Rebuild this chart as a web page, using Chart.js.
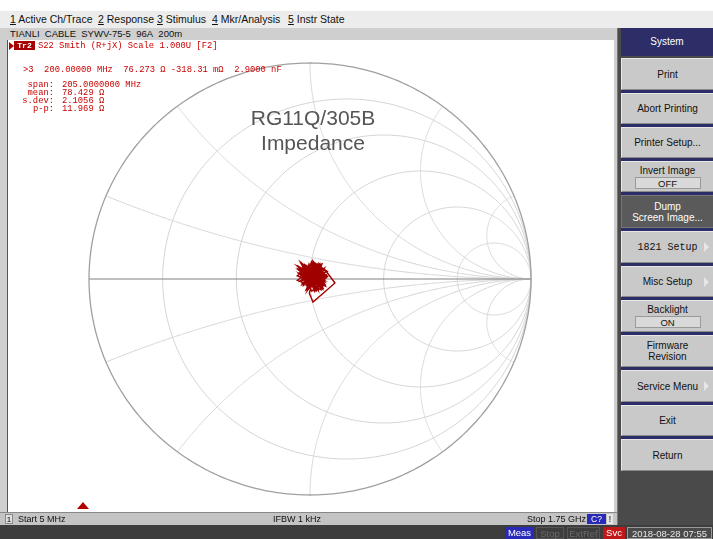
<!DOCTYPE html>
<html><head><meta charset="utf-8">
<script src="https://cdn.jsdelivr.net/npm/chart.js@4/dist/chart.umd.min.js"></script>
<style>
body{margin:0;width:713px;height:539px;position:relative;overflow:hidden;background:#fff;font-family:"Liberation Sans",sans-serif;}
.a{position:absolute;white-space:nowrap;}
.menu{top:12px;font-size:10.5px;line-height:15px;color:#111;}
.menu u{text-decoration:underline;}
.mono{font-family:"Liberation Mono","DejaVu Sans Mono",monospace;color:#c80000;font-size:8.8px;line-height:8px;}
.btn{left:621px;width:92px;background:#c9c9c9;border-top:1px solid #e8e8e8;border-left:1px solid #e8e8e8;border-bottom:1px solid #8a8a8a;box-sizing:border-box;text-align:center;font-size:10px;color:#111;display:flex;flex-direction:column;justify-content:center;align-items:center;}
.sep{left:621px;width:92px;height:3px;background:#2d2d68;}
.box{width:66px;height:12px;background:#d9d9d9;border:1px solid #9a9a9a;box-sizing:border-box;font-size:9.5px;line-height:11px;margin-top:1px;}
.arrow{position:absolute;right:4px;top:50%;margin-top:-5px;width:0;height:0;border-top:5px solid transparent;border-bottom:5px solid transparent;border-left:5px solid #e6e6e6;}
.st{top:527px;height:12px;font-size:9.5px;line-height:12px;text-align:center;}
</style></head>
<body>
<!-- top menu -->
<div class="a" style="left:0;top:11px;width:713px;height:17px;background:#ececec;"></div>
<div class="a menu" style="left:10px"><u>1</u> Active Ch/Trace</div>
<div class="a menu" style="left:98px"><u>2</u> Response</div>
<div class="a menu" style="left:157px"><u>3</u> Stimulus</div>
<div class="a menu" style="left:212px"><u>4</u> Mkr/Analysis</div>
<div class="a menu" style="left:288px"><u>5</u> Instr State</div>
<!-- second row -->
<div class="a" style="left:0;top:28px;width:617px;height:12px;background:#cfcfcf;"></div>
<div class="a" style="left:10px;top:28px;font-size:9.5px;line-height:12px;color:#111;">TIANLI&nbsp; CABLE&nbsp; SYWV-75-5&nbsp; 96A&nbsp; 200m</div>
<!-- left gray margin -->
<div class="a" style="left:0;top:40px;width:7px;height:472px;background:#cfcfcf;"></div>
<div class="a" style="left:7px;top:40px;width:1px;height:472px;background:#555;"></div>
<!-- right strip -->
<div class="a" style="left:614px;top:40px;width:4px;height:472px;background:#cfcfcf;"></div>
<div class="a" style="left:617px;top:28px;width:4px;height:497px;background:#bdbdbd;border-left:1px solid #777;"></div>

<div class="a" style="left:8px;top:40px;width:606px;height:472px;">
<canvas id="c" width="606" height="472"></canvas>
</div>

<!-- trace text -->
<div class="a" style="left:9px;top:42px;width:0;height:0;border-top:4px solid transparent;border-bottom:4px solid transparent;border-left:5px solid #b00000;"></div>
<div class="a" style="left:14px;top:41px;width:21px;height:9px;background:#a80000;color:#fff;font-family:'Liberation Mono',monospace;font-size:8px;line-height:9px;text-align:center;font-weight:bold;">Tr2</div>
<div class="a mono" style="left:38px;top:42px;">S22 Smith (R+jX) Scale 1.000U [F2]</div>
<div class="a mono" style="left:23px;top:66px;">&gt;3&nbsp; 200.00000 MHz&nbsp; 76.273 Ω -318.31 mΩ&nbsp; 2.9000 nF</div>
<div class="a mono" style="left:22px;top:81px;width:32px;text-align:right;">span:</div>
<div class="a mono" style="left:62px;top:81px;">205.0000000 MHz</div>
<div class="a mono" style="left:22px;top:89px;width:32px;text-align:right;">mean:</div>
<div class="a mono" style="left:62px;top:89px;">78.429 Ω</div>
<div class="a mono" style="left:17px;top:97px;width:37px;text-align:right;">s.dev:</div>
<div class="a mono" style="left:62px;top:97px;">2.1056 Ω</div>
<div class="a mono" style="left:22px;top:105px;width:32px;text-align:right;">p-p:</div>
<div class="a mono" style="left:62px;top:105px;">11.969 Ω</div>

<!-- title -->
<div class="a" style="left:213px;top:105px;width:200px;text-align:center;font-family:'Liberation Sans',Arial,sans-serif;font-size:21px;line-height:25px;color:#555;">RG11Q/305B<br>Impedance</div>

<!-- marker triangle -->
<div class="a" style="left:77px;top:502px;width:0;height:0;border-left:6px solid transparent;border-right:6px solid transparent;border-bottom:7px solid #b00000;"></div>

<!-- bottom bar -->
<div class="a" style="left:0;top:512px;width:617px;height:13px;background:#c4c4c4;border-top:1px solid #888;box-sizing:border-box;"></div>
<div class="a" style="left:5px;top:514px;width:8px;height:10px;border:1px solid #888;box-sizing:border-box;background:#e0e0e0;font-size:8px;line-height:9px;text-align:center;">1</div>
<div class="a" style="left:18px;top:513px;font-size:9px;line-height:12px;color:#111;">Start 5 MHz</div>
<div class="a" style="left:273px;top:513px;font-size:9px;line-height:12px;color:#111;">IFBW 1 kHz</div>
<div class="a" style="left:527px;top:513px;font-size:9px;line-height:12px;color:#111;">Stop 1.75 GHz</div>
<div class="a" style="left:587px;top:514px;width:19px;height:10px;background:#2a2ab8;color:#fff;font-size:8.5px;line-height:10px;text-align:center;">C?</div>
<div class="a" style="left:607px;top:514px;width:6px;height:10px;background:#e6e6e6;font-size:8.5px;line-height:10px;text-align:center;">!</div>

<!-- status bar -->
<div class="a" style="left:0;top:525px;width:713px;height:14px;background:#3d3d3d;"></div>
<div class="a st" style="left:505px;width:29px;background:#2a2ab8;color:#fff;">Meas</div>
<div class="a st" style="left:536px;width:28px;color:#6a6a6a;border:1px solid #555;box-sizing:border-box;">Stop</div>
<div class="a st" style="left:567px;width:33px;color:#6a6a6a;border:1px solid #555;box-sizing:border-box;">ExtRef</div>
<div class="a st" style="left:603px;width:22px;background:#c01818;color:#fff;">Svc</div>
<div class="a st" style="left:627px;width:85px;background:#4a4a4a;color:#e6e6e6;border:1px solid #999;box-sizing:border-box;">2018-08-28 07:55</div>

<!-- right panel -->
<div class="a" style="left:618px;top:28px;width:95px;height:497px;background:#4a4a4a;"></div>
<div class="a" style="left:621px;top:28px;width:92px;height:28px;background:#2d2d68;color:#fff;font-size:10px;line-height:28px;text-align:center;">System</div>
<div class="a btn" style="top:58px;height:32px;">Print</div>
<div class="a sep" style="top:90px"></div>
<div class="a btn" style="top:93px;height:31px;">Abort Printing</div>
<div class="a sep" style="top:124px"></div>
<div class="a btn" style="top:127px;height:31px;">Printer Setup...</div>
<div class="a sep" style="top:158px"></div>
<div class="a btn" style="top:161px;height:31px;"><div>Invert Image</div><div class="box">OFF</div></div>
<div class="a sep" style="top:192px"></div>
<div class="a btn" style="top:195px;height:33px;background:#5a5a5a;color:#fff;border-color:#777;"><div>Dump</div><div>Screen Image...</div></div>
<div class="a sep" style="top:228px"></div>
<div class="a btn" style="top:231px;height:32px;font-family:'Liberation Mono',monospace;"><span>1821 Setup</span><div class="arrow"></div></div>
<div class="a sep" style="top:263px"></div>
<div class="a btn" style="top:266px;height:31px;"><span>Misc Setup</span><div class="arrow"></div></div>
<div class="a sep" style="top:297px"></div>
<div class="a btn" style="top:300px;height:32px;"><div>Backlight</div><div class="box">ON</div></div>
<div class="a sep" style="top:332px"></div>
<div class="a btn" style="top:335px;height:32px;"><div>Firmware</div><div>Revision</div></div>
<div class="a sep" style="top:367px"></div>
<div class="a btn" style="top:370px;height:32px;"><span>Service Menu</span><div class="arrow"></div></div>
<div class="a sep" style="top:402px"></div>
<div class="a btn" style="top:405px;height:31px;">Exit</div>
<div class="a sep" style="top:436px"></div>
<div class="a btn" style="top:439px;height:32px;">Return</div>

<script>
// ---- data (S22 trace, impedance in ohms, read from the cluster) ----
const z0 = 75;
const traceR = [77.3,84.6,70.2,81.9,74.0,86.3,68.7,79.5,72.8,83.1,75.6,69.4,85.0,78.2,71.5,80.7,66.9,82.4,76.1,87.2,73.3,79.9,68.0,84.0,75.0,70.8,81.3,77.9,66.5,83.6,72.1,78.8,86.8,74.7,69.9,80.2,76.5,85.5,71.0,79.1,67.6,82.9,75.3,88.0,73.9,78.5,70.5,84.9,76.9,81.6,
69.2,83.3,74.4,80.0,67.2,85.8,77.6,72.5,82.1,75.9,68.4,86.0,79.7,71.8,81.0,76.2,70.0,84.3,73.5,78.0,
87.5,94.0,84.5,75.3,73.9,76.0,
77.0,83.8,69.6,80.9,72.3,86.9,75.8,68.2,82.7,78.6,71.2,84.7,74.9,79.3,67.9,81.8,76.7,85.3,70.4,78.3,
73.1,82.5,69.0,80.4,76.0,87.5,71.6,79.0,84.1,74.2,
66.8,81.1,77.4,85.6,72.9,79.6,70.9,83.4,75.4,68.8,
82.0,76.4,86.2,73.7,80.6,69.8,78.9,84.5,71.3,77.8,
74.6,83.0,67.4,81.4,76.8,85.1,72.0,79.4,70.3,82.8];
const traceX = [2.0,-4.5,7.3,9.8,-6.1,3.4,-1.2,11.0,-7.8,5.6,0.3,-3.0,8.7,-5.4,4.1,10.5,-0.8,-8.2,6.4,1.7,-2.6,9.2,3.9,-6.9,12.0,-4.0,5.1,-1.7,7.9,0.8,-7.2,10.1,2.6,-5.0,8.3,-2.1,11.6,-3.7,4.6,-8.8,6.0,-0.4,9.5,2.2,-6.4,7.0,-3.3,4.9,10.8,-1.0,
3.1,-7.5,8.9,-4.8,5.8,0.6,-9.0,6.8,-2.4,11.3,1.3,-5.7,4.4,9.0,-3.6,7.5,-0.2,3.6,-6.6,10.2,
5.3,-3.5,-10.6,-16.2,-9.8,-4.0,
4.3,-2.9,9.6,-6.3,6.7,1.1,-8.5,5.3,11.8,-4.2,8.1,-0.6,3.0,-7.0,7.6,0.0,10.4,-3.9,5.5,-1.5,
9.9,-5.2,2.8,-8.0,12.4,6.2,-2.2,4.0,-6.8,8.6,
1.9,-4.4,10.9,-1.8,7.2,-7.6,3.3,5.9,-0.9,9.4,
-3.4,6.5,0.5,-5.9,11.1,2.4,-8.7,7.7,4.7,-2.0,
8.4,-6.7,3.7,10.0,-1.4,5.0,-4.6,1.5,9.7,-3.2];
// Smith grid values (normalized)
const gridR = [0.2, 0.5, 1, 2, 5];
const gridX = [0.2, 0.5, 1, 2, 5, -0.2, -0.5, -1, -2, -5];

// ---- layout ----
const W = 606, H = 472, CX = 302, CY = 239, RX = 221, RY = 216;

function gamma(r, x) { // normalized z -> reflection coefficient
  const dr = r + 1, den = dr*dr + x*x;
  return { x: ((r*r + x*x) - 1) / den, y: (2*x) / den };
}
const traceData = [];
for (let i = 0; i < Math.min(traceR.length, traceX.length); i++) {
  traceData.push(gamma(traceR[i]/z0, traceX[i]/z0));
}

const smithGrid = {
  id: 'smithGrid',
  beforeDatasetsDraw(chart) {
    const ctx = chart.ctx, xs = chart.scales.x, ys = chart.scales.y;
    const px = v => xs.getPixelForValue(v), py = v => ys.getPixelForValue(v);
    ctx.save();
    ctx.lineWidth = 1;
    ctx.strokeStyle = '#d4d4d4';
    gridR.forEach(r => {
      const c = r/(1+r), rad = 1/(1+r);
      ctx.beginPath();
      for (let k = 0; k <= 360; k++) {
        const t = k*Math.PI/180;
        const gx = c + rad*Math.cos(t), gy = rad*Math.sin(t);
        k ? ctx.lineTo(px(gx), py(gy)) : ctx.moveTo(px(gx), py(gy));
      }
      ctx.stroke();
    });
    gridX.forEach(x => {
      ctx.beginPath();
      for (let k = 0; k <= 400; k++) {
        const r = Math.tan(k/400*Math.PI/2*0.9999);
        const g = gamma(r, x);
        k ? ctx.lineTo(px(g.x), py(g.y)) : ctx.moveTo(px(g.x), py(g.y));
      }
      ctx.stroke();
    });
    ctx.strokeStyle = '#808080';
    ctx.beginPath(); ctx.moveTo(px(-1), py(0)); ctx.lineTo(px(1), py(0)); ctx.stroke();
    ctx.strokeStyle = '#a0a0a0'; ctx.lineWidth = 1.3;
    ctx.beginPath();
    for (let k = 0; k <= 360; k++) {
      const t = k*Math.PI/180;
      k ? ctx.lineTo(px(Math.cos(t)), py(Math.sin(t))) : ctx.moveTo(px(1), py(0));
    }
    ctx.stroke();
    ctx.restore();
  }
};

new Chart(document.getElementById('c'), {
  type: 'scatter',
  data: { datasets: [{
    data: traceData, showLine: true, borderColor: '#a00000', borderWidth: 1.4,
    pointRadius: 0, tension: 0, fill: false
  }]},
  options: {
    responsive: false, animation: false, devicePixelRatio: 1,
    layout: { padding: 0 },
    plugins: { legend: { display: false }, tooltip: { enabled: false } },
    scales: {
      x: { type: 'linear', display: false, min: -CX/RX, max: (W-CX)/RX },
      y: { type: 'linear', display: false, min: -(H-CY)/RY, max: CY/RY }
    }
  },
  plugins: [smithGrid]
});
</script>
</body></html>
